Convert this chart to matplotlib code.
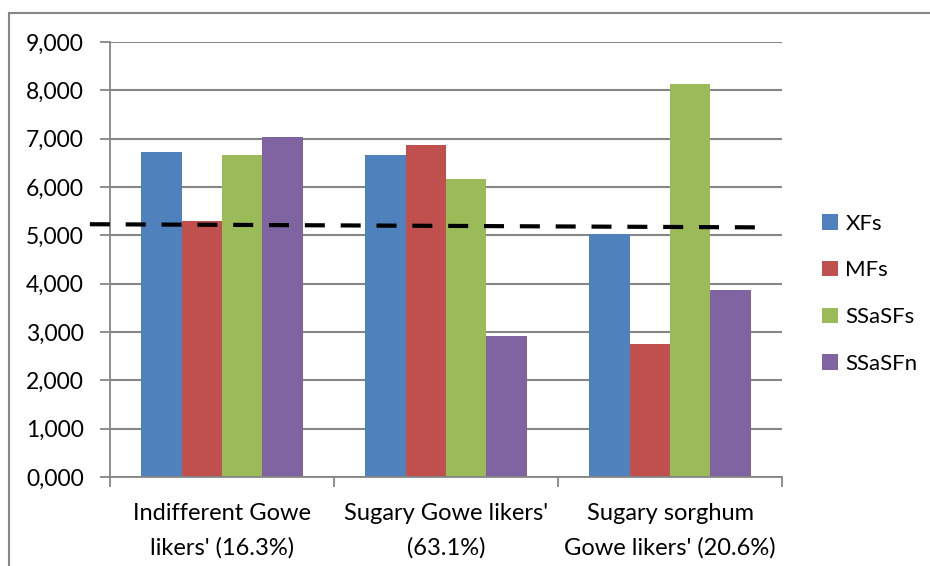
import matplotlib.pyplot as plt
import matplotlib.lines as mlines
import numpy as np

# datos
categorias = ["Indifferent Gowe\nlikers' (16.3%)", "Sugary Gowe likers'\n(63.1%)",
              "Sugary sorghum\nGowe likers' (20.6%)"]
series = ["XFs", "MFs", "SSaSFs", "SSaSFn"]
xfs = [6.73, 6.66, 5.03]
mfs = [5.30, 6.87, 2.75]
ssasfs = [6.66, 6.17, 8.13]
ssasfn = [7.04, 2.92, 3.86]
linea_x = [-0.59, 2.39]
linea_y = [5.23, 5.165]

colores = ["#4F81BD", "#C0504D", "#9BBB59", "#8064A2"]
plt.rcParams['font.family'] = ['Lato', 'DejaVu Sans']

fig = plt.figure(figsize=(9.3, 5.66), dpi=100)
ax = fig.add_axes([0.1183, 0.1572, 0.7226, 0.7686])

x = np.arange(len(categorias))
ancho = 0.18
for i, (nombre, valores) in enumerate(zip(series, [xfs, mfs, ssasfs, ssasfn])):
    ax.bar(x + (i - 1.5) * ancho, valores, ancho, color=colores[i], label=nombre, zorder=2)

ax.plot(linea_x, linea_y, color="black", lw=3, dashes=(4.8, 3.8), zorder=3, clip_on=False)

ax.set_xlim(-0.5, 2.5)
ax.set_ylim(0, 9)
ax.set_yticks(np.arange(0, 10, 1))
ax.set_yticklabels([f"{v},000" for v in range(10)], fontsize=16.5)
ax.set_xticks(x)
ax.set_xticklabels(categorias, fontsize=17, linespacing=1.75)
ax.set_xticks([-0.5, 0.5, 1.5, 2.5], minor=True)
ax.tick_params(axis="x", which="major", length=0, pad=19)
ax.tick_params(axis="x", which="minor", length=7, color="#868686", width=1.3, direction="out")
ax.tick_params(axis="y", length=7, color="#868686", width=1.3, pad=12)

ax.grid(axis="y", color="#868686", lw=1.5, zorder=0)
for s in ["top", "right"]:
    ax.spines[s].set_visible(False)
for s in ["left", "bottom"]:
    ax.spines[s].set_color("#868686")
    ax.spines[s].set_linewidth(1.3)

fig.legend(loc="center left", bbox_to_anchor=(0.884, 0.481), frameon=False, fontsize=16,
           handlelength=0.7, handleheight=0.7, labelspacing=1.2, handletextpad=0.35,
           borderpad=0, borderaxespad=0)

# marco exterior (solo izquierda y arriba)
fig.add_artist(mlines.Line2D([9 / 930, 9 / 930], [0, 1 - 13 / 566], color="#868686", lw=1.5,
                             transform=fig.transFigure))
fig.add_artist(mlines.Line2D([9 / 930, 1], [1 - 13 / 566, 1 - 13 / 566], color="#868686", lw=1.5,
                             transform=fig.transFigure))

fig.savefig("out.png", dpi=100)
